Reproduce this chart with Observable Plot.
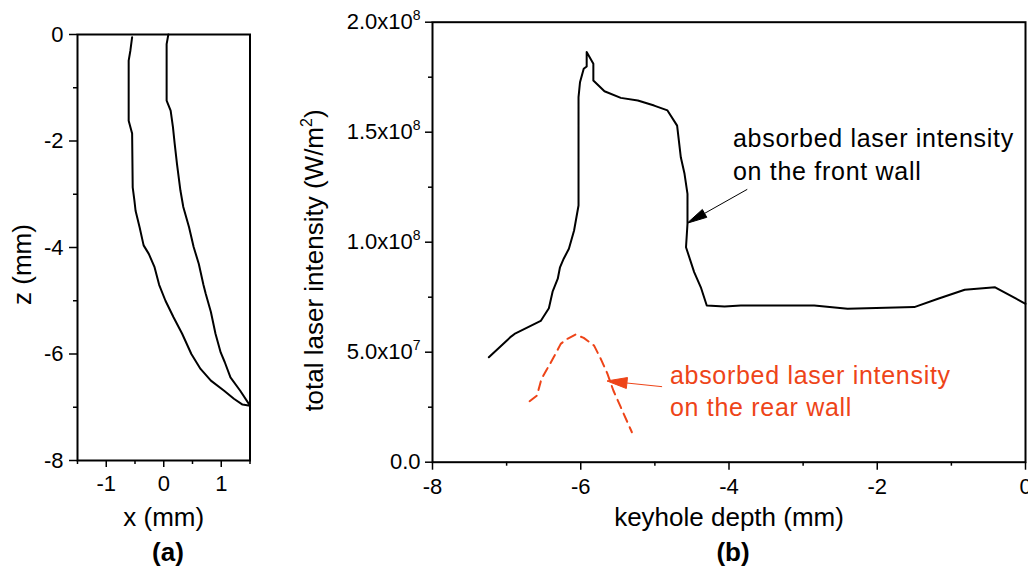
<!DOCTYPE html>
<html><head><meta charset="utf-8">
<script src="https://cdn.jsdelivr.net/npm/d3@7"></script>
<script src="https://cdn.jsdelivr.net/npm/@observablehq/plot@0.6"></script>
<style>
html,body{margin:0;padding:0;background:#fff;}
#wrap{position:relative;width:1028px;height:571px;overflow:hidden;font-family:"Liberation Sans",Arial,sans-serif;}
.panel{position:absolute;top:0;}
.cap{position:absolute;top:539px;width:100px;text-align:center;font-weight:bold;font-size:26px;line-height:26px;color:#000;}
</style></head><body>
<div id="wrap">
  <div id="pa" class="panel" style="left:0"></div>
  <div id="pb" class="panel" style="left:270px"></div>
  <div class="cap" style="left:118px">(a)</div>
  <div class="cap" style="left:683px">(b)</div>
</div>
<script>
// ---------- Panel (a): keyhole walls ----------
const leftWallX  = [-0.55,-0.58,-0.61,-0.61,-0.55,-0.54,-0.51,-0.49,-0.42,-0.35,-0.26,-0.16,-0.08,0.03,0.17,0.32,0.48,0.64,0.82,1.05,1.22,1.37,1.50];
const leftWallZ  = [-0.05,-0.30,-0.49,-1.62,-1.86,-2.87,-3.12,-3.31,-3.62,-3.96,-4.12,-4.37,-4.70,-5.00,-5.31,-5.62,-6.00,-6.28,-6.50,-6.69,-6.84,-6.95,-6.97];
const rightWallX = [0.08,0.05,0.05,0.12,0.16,0.19,0.23,0.29,0.34,0.44,0.52,0.61,0.69,0.73,0.82,0.90,0.99,1.06,1.16,1.33,1.50];
const rightWallZ = [0,-0.18,-1.24,-1.43,-1.74,-2.05,-2.43,-2.93,-3.24,-3.62,-3.99,-4.31,-4.70,-4.87,-5.21,-5.62,-5.97,-6.15,-6.44,-6.69,-6.97];
const aXDomain = [-1.5, 1.5];
const aZDomain = [-8, 0];
const aXMajor = [-1, 0, 1];
const aXMinor = [-1.5, -0.5, 0.5, 1.5];
const aZMajor = [-8, -6, -4, -2, 0];
const aZMinor = [-7, -5, -3, -1];
const aXLabel = "x (mm)";
const aZLabel = "z (mm)";

// ---------- Panel (b): laser intensity (values in 10^6 W/m^2) ----------
const frontDepth = [-7.24,-6.94,-6.88,-6.54,-6.43,-6.38,-6.31,-6.28,-6.23,-6.16,-6.09,-6.03,-6.03,-6.01,-5.96,-5.92,-5.92,-5.83,-5.83,-5.68,-5.46,-5.23,-5.01,-4.83,-4.70,-4.65,-4.60,-4.56,-4.56,-4.56,-4.58,-4.47,-4.38,-4.30,-4.06,-3.84,-2.85,-2.40,-1.50,-1.18,-0.82,-0.41,0];
const frontIntensityM = [47.7,57.1,58.6,64.2,70.0,77.5,83.4,88.6,92.5,97.0,105.3,116.7,165.9,172.7,178.8,179.9,186.4,181.1,173.5,168.6,165.6,164.4,162.1,159.9,153.0,138.6,131.1,122.0,112.9,108.4,97.7,86.4,79.5,71.2,70.8,71.2,71.2,69.7,70.5,74.3,78.4,79.5,72.0];
const rearDepth = [-6.69,-6.59,-6.53,-6.46,-6.36,-6.27,-6.18,-6.07,-5.96,-5.82,-5.73,-5.64,-5.56,-5.46,-5.31];
const rearIntensityM = [27.7,30.3,37.9,42.0,48.0,53.8,56.1,58.0,56.5,53.0,47.0,40.2,32.6,25.0,13.6];
const bXDomain = [-8, 0];
const bYDomain = [0, 2e8];
const bXMajor = [-8, -6, -4, -2, 0];
const bXMinor = [-7, -5, -3, -1];
const bYMajor = [0, 5e7, 1e8, 1.5e8, 2e8];
const bYMajorLabels = ["0.0", "5.0x10^7", "1.0x10^8", "1.5x10^8", "2.0x10^8"];
const bYMinor = [2.5e7, 7.5e7, 1.25e8, 1.75e8];
const bXLabel = "keyhole depth (mm)";
const bYLabel = "total laser intensity (W/m^2)";
const frontNote = {x: -3.946, y: 128.4e6, text: "absorbed laser intensity\non the front wall"};
const rearNote  = {x: -4.797, y: 21.2e6,  text: "absorbed laser intensity\non the rear wall"};
const frontArrow = {fromX: -3.747, fromY: 123.8e6, toX: -4.558, toY: 108.4e6};
const rearArrow  = {fromX: -4.896, fromY: 34.1e6,  toX: -5.639, toY: 36.7e6};

const FONT = '"Liberation Sans", Arial, Helvetica, sans-serif';
const REAR = "#ee4418";
const fmt = d => String(d);

const leftWall = leftWallX.map((x, i) => ({x, z: leftWallZ[i]}));
const rightWall = rightWallX.map((x, i) => ({x, z: rightWallZ[i]}));
const front = frontDepth.map((d, i) => ({d, v: frontIntensityM[i] * 1e6}));
const rear = rearDepth.map((d, i) => ({d, v: rearIntensityM[i] * 1e6}));
const yLabelMap = new Map(bYMajor.map((t, i) => [t, bYMajorLabels[i]]));

function arrowMark(a, color, L, W) {
  return (index, scales) => {
    const sx = scales.x(a.fromX), sy = scales.y(a.fromY);
    const tx = scales.x(a.toX), ty = scales.y(a.toY);
    const len = Math.hypot(tx - sx, ty - sy);
    const ux = (tx - sx) / len, uy = (ty - sy) / len;
    const bx = tx - ux * L, by = ty - uy * L;
    const nx = -uy, ny = ux;
    const g = d3.create("svg:g");
    g.append("line").attr("x1", sx).attr("y1", sy).attr("x2", bx).attr("y2", by)
      .attr("stroke", color).attr("stroke-width", 1);
    g.append("polygon")
      .attr("points", `${tx},${ty} ${bx + nx * W / 2},${by + ny * W / 2} ${bx - nx * W / 2},${by - ny * W / 2}`)
      .attr("fill", color).attr("stroke", color).attr("stroke-width", 1);
    return g.node();
  };
}

function supify(svg) {
  d3.select(svg).selectAll("text").each(function () {
    const t = this.textContent;
    const m = /^(.*)\^(\d)(.*)$/.exec(t);
    if (!m) return;
    const fs = parseFloat(getComputedStyle(this).fontSize) || 22;
    const sfs = Math.round(fs * 0.62);
    const shift = Math.round(fs * 0.42);
    while (this.firstChild) this.removeChild(this.firstChild);
    this.appendChild(document.createTextNode(m[1]));
    const ns = "http://www.w3.org/2000/svg";
    const s = document.createElementNS(ns, "tspan");
    s.setAttribute("dy", -shift);
    s.setAttribute("font-size", sfs);
    s.textContent = m[2];
    this.appendChild(s);
    if (m[3]) {
      const p = document.createElementNS(ns, "tspan");
      p.setAttribute("dy", shift);
      p.setAttribute("font-size", fs);
      p.textContent = m[3];
      this.appendChild(p);
    }
  });
}

function spaceNotes(svg) {
  d3.select(svg).selectAll("text").each(function () {
    if (this.textContent.indexOf("absorbed") >= 0) this.setAttribute("letter-spacing", "0.7");
  });
}

const axisCommon = {strokeWidth: 1.5, label: null, fontSize: 22};

const plotA = Plot.plot({
  width: 270, height: 540,
  marginLeft: 77, marginRight: 20.5, marginTop: 34, marginBottom: 80,
  style: {fontFamily: FONT, fontSize: "22px", color: "#000", background: "transparent", overflow: "visible"},
  x: {domain: aXDomain},
  y: {domain: aZDomain},
  marks: [
    Plot.axisX(aXMajor, {...axisCommon, tickSize: 7, tickPadding: 8, tickFormat: fmt}),
    Plot.axisX(aXMinor, {...axisCommon, tickSize: 4, tickFormat: () => ""}),
    Plot.axisY(aZMajor, {...axisCommon, tickSize: 8, tickPadding: 6, tickFormat: fmt}),
    Plot.axisY(aZMinor, {...axisCommon, tickSize: 4, tickFormat: () => ""}),
    Plot.frame({stroke: "#000", strokeWidth: 2}),
    Plot.line(leftWall, {x: "x", y: "z", stroke: "#000", strokeWidth: 2}),
    Plot.line(rightWall, {x: "x", y: "z", stroke: "#000", strokeWidth: 2}),
    Plot.text([aXLabel], {frameAnchor: "bottom", textAnchor: "middle", lineAnchor: "bottom", dy: 65, fontSize: 26}),
    Plot.text([aZLabel], {frameAnchor: "left", textAnchor: "middle", rotate: -90, lineAnchor: "bottom", dx: -47, dy: 17, fontSize: 26})
  ]
});

const plotB = Plot.plot({
  width: 758, height: 540,
  marginLeft: 162, marginRight: 3, marginTop: 21.7, marginBottom: 78.3,
  style: {fontFamily: FONT, fontSize: "22px", color: "#000", background: "transparent", overflow: "visible"},
  x: {domain: bXDomain},
  y: {domain: bYDomain},
  marks: [
    Plot.axisX(bXMajor, {...axisCommon, tickSize: 8, tickPadding: 8, tickFormat: fmt}),
    Plot.axisX(bXMinor, {...axisCommon, tickSize: 4, tickFormat: () => ""}),
    Plot.axisY(bYMajor, {...axisCommon, tickSize: 7, tickPadding: 5, tickFormat: d => yLabelMap.get(d)}),
    Plot.axisY(bYMinor, {...axisCommon, tickSize: 4, tickFormat: () => ""}),
    Plot.frame({stroke: "#000", strokeWidth: 2}),
    Plot.line(front, {x: "d", y: "v", stroke: "#000", strokeWidth: 2}),
    Plot.line(rear, {x: "d", y: "v", stroke: REAR, strokeWidth: 2, strokeDasharray: "9,6"}),
    Plot.text([frontNote], {x: "x", y: "y", text: "text", textAnchor: "start", lineAnchor: "bottom", lineHeight: 1.3, fontSize: 25, fill: "#000"}),
    Plot.text([rearNote], {x: "x", y: "y", text: "text", textAnchor: "start", lineAnchor: "bottom", lineHeight: 1.27, fontSize: 25, fill: REAR}),
    arrowMark(frontArrow, "#000", 20, 9),
    arrowMark(rearArrow, REAR, 20, 11),
    Plot.text([bXLabel], {frameAnchor: "bottom", textAnchor: "middle", lineAnchor: "bottom", dy: 63.3, fontSize: 26}),
    Plot.text([bYLabel], {frameAnchor: "left", textAnchor: "middle", rotate: -90, lineAnchor: "bottom", dx: -110, dy: 18.3, fontSize: 26})
  ]
});

document.getElementById("pa").appendChild(plotA);
document.getElementById("pb").appendChild(plotB);
supify(plotA);
supify(plotB);
spaceNotes(plotB);
</script>
</body></html>
